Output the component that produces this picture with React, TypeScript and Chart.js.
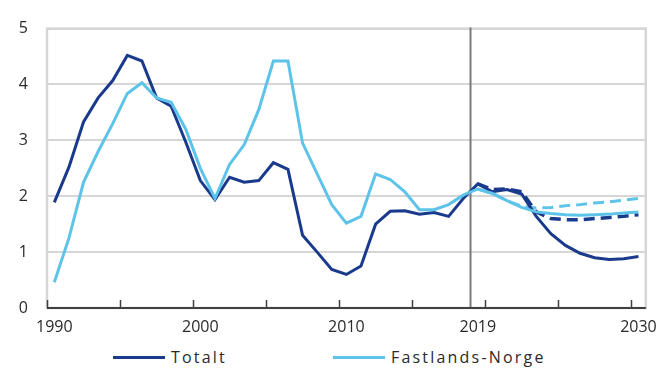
import React, { useEffect, useRef } from 'react';
import { Chart, registerables } from 'chart.js';

Chart.register(...registerables);

const years = [
  '1990', '1991', '1992', '1993', '1994', '1995', '1996', '1997', '1998', '1999',
  '2000', '2001', '2002', '2003', '2004', '2005', '2006', '2007', '2008', '2009',
  '2010', '2011', '2012', '2013', '2014', '2015', '2016', '2017', '2018', '2019',
  '2020', '2021', '2022', '2023', '2024', '2025', '2026', '2027', '2028', '2029',
  '2030',
];

const shownYearLabels = ['1990', '2000', '2010', '2019', '2030'];
const markerYear = '2019';
const yTicks = [0, 1, 2, 3, 4, 5];

const totalt = [
  1.89, 2.52, 3.33, 3.76, 4.07, 4.52, 4.42, 3.76, 3.61, 2.97,
  2.28, 1.94, 2.34, 2.25, 2.28, 2.6, 2.48, 1.3, 1.0, 0.69,
  0.6, 0.75, 1.5, 1.73, 1.74, 1.68, 1.71, 1.64, 1.96, 2.22,
  2.08, 2.12, 2.04, 1.64, 1.33, 1.12, 0.98, 0.9, 0.87, 0.88,
  0.92,
];

const fastland = [
  0.46, 1.25, 2.25, 2.8, 3.3, 3.84, 4.03, 3.76, 3.68, 3.2,
  2.5, 1.96, 2.57, 2.92, 3.55, 4.42, 4.42, 2.95, 2.4, 1.85,
  1.52, 1.64, 2.4, 2.3, 2.08, 1.76, 1.76, 1.85, 2.02, 2.13,
  2.05, 1.92, 1.8, 1.72, 1.69, 1.67, 1.66, 1.67, 1.68, 1.7,
  1.72,
];

const totaltAlt = [
  null, null, null, null, null, null, null, null, null, null,
  null, null, null, null, null, null, null, null, null, null,
  null, null, null, null, null, null, null, null, null, 2.22,
  2.12, 2.13, 2.08, 1.72, 1.6, 1.58, 1.58, 1.6, 1.62, 1.64,
  1.67,
];

const fastlandAlt = [
  null, null, null, null, null, null, null, null, null, null,
  null, null, null, null, null, null, null, null, null, null,
  null, null, null, null, null, null, null, null, null, 2.13,
  2.05, 1.92, 1.82, 1.79, 1.8, 1.83, 1.85, 1.88, 1.9, 1.93,
  1.96,
];

const DARK = '#1A3A8C';
const LIGHT = '#5EC3E9';
const FONT = '"Open Sans", sans-serif';
const TEXT = '#2a2a2a';

const framePlugin = {
  id: 'frame',
  beforeDatasetsDraw(chart: any) {
    const { ctx, chartArea } = chart;
    const x = chart.scales.x;
    const { left, right, top, bottom } = chartArea;
    const half = (x.getPixelForValue(1) - x.getPixelForValue(0)) / 2;
    ctx.save();
    ctx.strokeStyle = '#D6D6D6';
    ctx.lineWidth = 2.5;
    ctx.strokeRect(left, top, right - left, bottom - top);
    const mi = years.indexOf(markerYear);
    const mx = x.getPixelForValue(mi) - half;
    ctx.strokeStyle = '#7A7A7A';
    ctx.lineWidth = 2;
    ctx.beginPath();
    ctx.moveTo(mx, top - 1);
    ctx.lineTo(mx, bottom);
    ctx.stroke();
    ctx.strokeStyle = '#404040';
    ctx.lineWidth = 2;
    ctx.beginPath();
    ctx.moveTo(left, bottom);
    ctx.lineTo(right, bottom);
    ctx.stroke();
    ctx.lineWidth = 1.5;
    years.forEach((yr, i) => {
      if (Number(yr) % 5 === 0) {
        const tx = Math.round(x.getPixelForValue(i) - half) + 0.5;
        ctx.beginPath();
        ctx.moveTo(tx, bottom);
        ctx.lineTo(tx, bottom - 8);
        ctx.stroke();
      }
    });
    ctx.restore();
  },
};

function ChartCanvas() {
  const ref = useRef<HTMLCanvasElement | null>(null);
  useEffect(() => {
    if (!ref.current) return;
    const chart = new Chart(ref.current, {
      type: 'line',
      data: {
        labels: years,
        datasets: [
          {
            label: 'Fastlands-Norge',
            data: fastland,
            borderColor: LIGHT,
            backgroundColor: LIGHT,
            borderWidth: 3,
            pointRadius: 0,
            tension: 0,
          },
          {
            label: 'Totalt',
            data: totalt,
            borderColor: DARK,
            backgroundColor: DARK,
            borderWidth: 3,
            pointRadius: 0,
            tension: 0,
          },
          {
            label: 'Fastlands-Norge alt',
            data: fastlandAlt,
            borderColor: LIGHT,
            backgroundColor: LIGHT,
            borderWidth: 3,
            borderDash: [11, 6],
            pointRadius: 0,
            tension: 0,
          },
          {
            label: 'Totalt alt',
            data: totaltAlt,
            borderColor: DARK,
            backgroundColor: DARK,
            borderWidth: 3.5,
            borderDash: [11, 6],
            pointRadius: 0,
            tension: 0,
          },
        ],
      },
      options: {
        animation: false,
        responsive: true,
        maintainAspectRatio: false,
        layout: { padding: { top: 20, right: 19, left: 0, bottom: 0 } },
        plugins: {
          legend: { display: false },
          tooltip: { enabled: false },
        },
        scales: {
          x: {
            type: 'category',
            offset: true,
            grid: { display: false, drawTicks: false },
            border: { display: false },
            afterFit: (s: any) => {
              s.height = 32;
            },
            ticks: {
              autoSkip: false,
              maxRotation: 0,
              padding: 10,
              color: TEXT,
              font: { family: FONT, size: 16 },
              callback: (_v: any, i: number) =>
                shownYearLabels.includes(years[i]) ? years[i] : '',
            },
          },
          y: {
            min: 0,
            max: 5,
            afterBuildTicks: (s: any) => {
              s.ticks = yTicks.map((v) => ({ value: v }));
            },
            afterFit: (s: any) => {
              s.width = 47;
            },
            grid: { color: '#D6D6D6', lineWidth: 2, drawTicks: false },
            border: { display: false },
            ticks: {
              padding: 19,
              color: TEXT,
              font: { family: FONT, size: 16 },
            },
          },
        },
      },
      plugins: [framePlugin],
    });
    return () => chart.destroy();
  }, []);
  return <canvas ref={ref} />;
}

function LegendItem({ color, text, left }: { color: string; text: string; left: number }) {
  return (
    <div
      style={{
        position: 'absolute',
        left,
        top: 0,
        height: 22,
        display: 'flex',
        alignItems: 'center',
      }}
    >
      <div style={{ width: 52, height: 3, background: color }} />
      <span style={{ marginLeft: 6, letterSpacing: 2.2 }}>{text}</span>
    </div>
  );
}

export default function App() {
  return (
    <div
      style={{
        position: 'absolute',
        left: 0,
        top: 0,
        width: 667,
        height: 372,
        background: '#fff',
        fontFamily: FONT,
        color: TEXT,
        fontSize: 16,
      }}
    >
      <div style={{ position: 'absolute', left: 0, top: 0, width: 667, height: 340 }}>
        <ChartCanvas />
      </div>
      <div style={{ position: 'absolute', left: 0, top: 346, width: 667, height: 22 }}>
        <LegendItem color={DARK} text="Totalt" left={113} />
        <LegendItem color={LIGHT} text="Fastlands-Norge" left={333} />
      </div>
    </div>
  );
}
